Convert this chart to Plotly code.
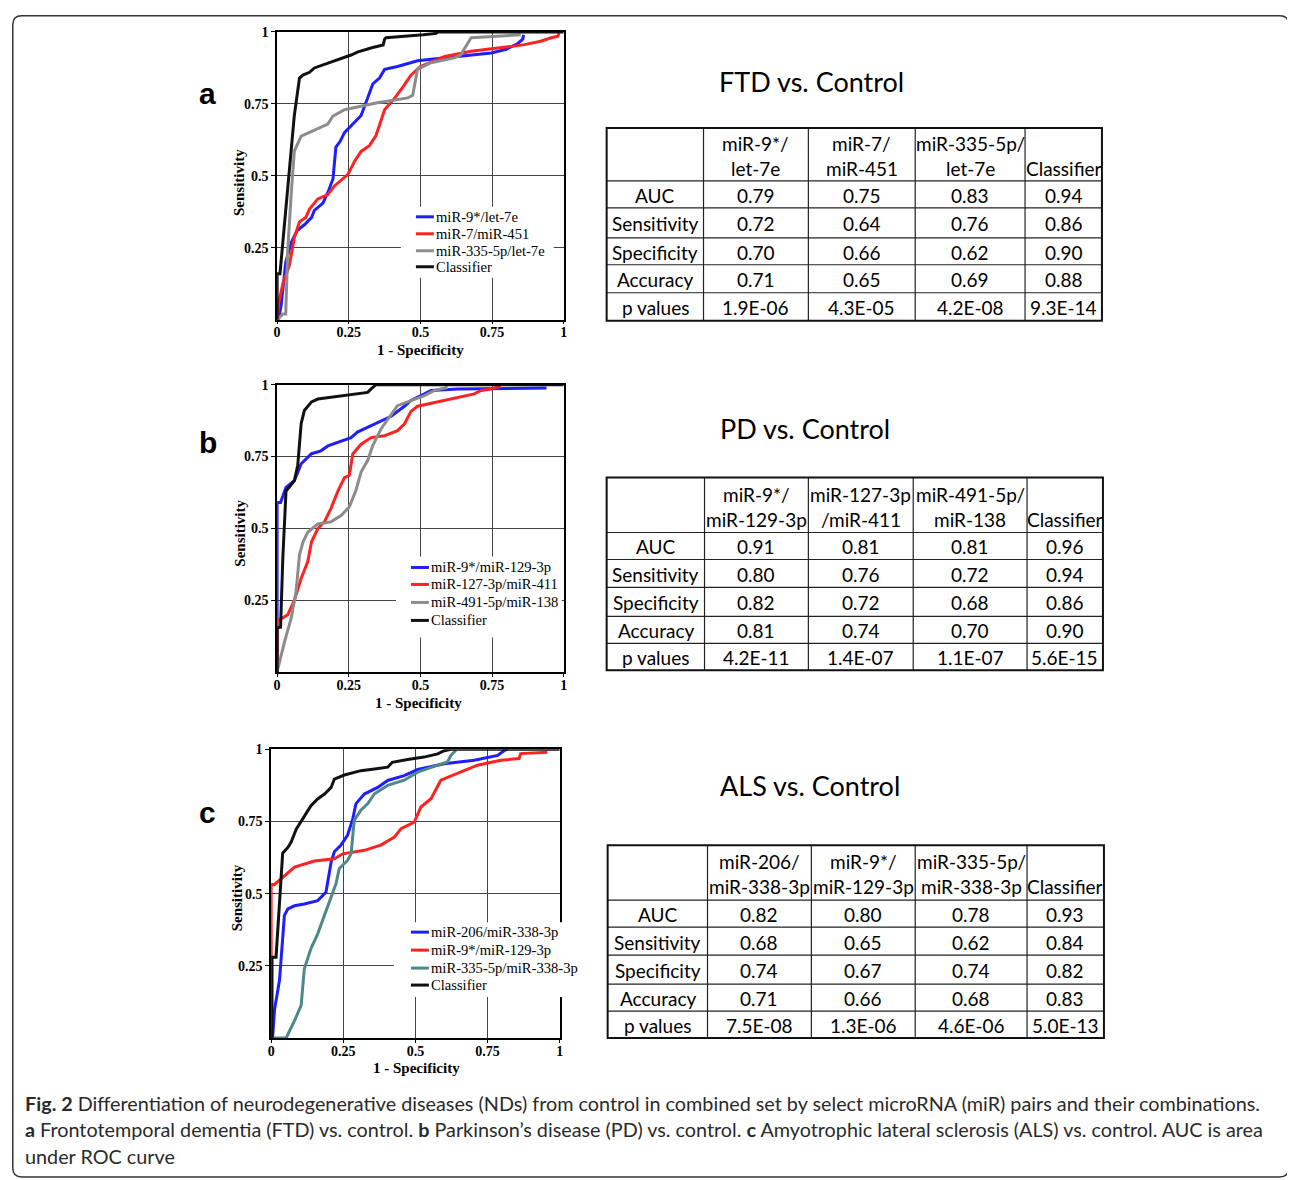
import plotly.graph_objects as go

W, H = 1292, 1176
# measured mapping of figure pixels to the photographed page
SX, OX = 0.996, 10.5
SY, OY = 0.995, 14.0

# ---------------- DATA ----------------
# Panel a: FTD vs Control
a_blue_x = [0, 0.005, 0.014, 0.03, 0.05, 0.07, 0.095, 0.12, 0.13, 0.16, 0.18, 0.195, 0.205, 0.22, 0.235, 0.265, 0.293, 0.31, 0.334, 0.357, 0.375, 0.42, 0.49, 0.537, 0.63, 0.747, 0.80, 0.84, 0.857, 0.86]
a_blue_y = [0, 0.0, 0.05, 0.2, 0.27, 0.31, 0.33, 0.355, 0.38, 0.405, 0.45, 0.49, 0.60, 0.62, 0.65, 0.68, 0.71, 0.755, 0.82, 0.84, 0.87, 0.88, 0.90, 0.905, 0.915, 0.927, 0.94, 0.96, 0.975, 0.99]
a_red_x = [0, 0.005, 0.02, 0.043, 0.06, 0.078, 0.1, 0.113, 0.142, 0.177, 0.2, 0.247, 0.27, 0.293, 0.322, 0.345, 0.375, 0.41, 0.44, 0.467, 0.5, 0.585, 0.677, 0.77, 0.863, 0.92, 0.956, 0.98, 0.983]
a_red_y = [0, 0.055, 0.125, 0.19, 0.285, 0.34, 0.355, 0.385, 0.42, 0.435, 0.465, 0.505, 0.55, 0.585, 0.605, 0.64, 0.73, 0.77, 0.81, 0.85, 0.88, 0.915, 0.933, 0.945, 0.956, 0.968, 0.98, 0.985, 0.997]
a_gray_x = [0, 0.02, 0.03, 0.037, 0.05, 0.06, 0.084, 0.13, 0.177, 0.194, 0.235, 0.35, 0.456, 0.473, 0.49, 0.537, 0.618, 0.64, 0.677, 0.85]
a_gray_y = [0, 0.02, 0.02, 0.24, 0.45, 0.586, 0.638, 0.66, 0.68, 0.707, 0.73, 0.754, 0.771, 0.78, 0.87, 0.893, 0.91, 0.92, 0.98, 0.99]
a_black_x = [0, 0, 0.01, 0.037, 0.06, 0.078, 0.09, 0.113, 0.13, 0.258, 0.28, 0.33, 0.37, 0.375, 0.38, 0.51, 0.555, 0.56, 1.0]
a_black_y = [0, 0.16, 0.16, 0.45, 0.71, 0.84, 0.85, 0.86, 0.875, 0.92, 0.93, 0.945, 0.955, 0.975, 0.98, 0.99, 0.995, 1.0, 1.0]

# Panel b: PD vs Control
b_blue_x = [0, 0, 0.012, 0.031, 0.06, 0.084, 0.12, 0.153, 0.177, 0.212, 0.258, 0.28, 0.328, 0.398, 0.444, 0.467, 0.514, 0.537, 0.63, 0.94]
b_blue_y = [0, 0.59, 0.59, 0.643, 0.666, 0.725, 0.76, 0.77, 0.787, 0.80, 0.816, 0.835, 0.857, 0.89, 0.925, 0.945, 0.968, 0.98, 0.985, 0.988]
b_red_x = [0, 0, 0.037, 0.06, 0.084, 0.107, 0.12, 0.142, 0.165, 0.188, 0.212, 0.235, 0.252, 0.264, 0.293, 0.328, 0.374, 0.42, 0.444, 0.467, 0.49, 0.56, 0.63, 0.688, 0.712, 0.746, 0.78]
b_red_y = [0, 0.177, 0.20, 0.25, 0.327, 0.385, 0.454, 0.50, 0.523, 0.57, 0.63, 0.677, 0.685, 0.759, 0.793, 0.816, 0.822, 0.84, 0.863, 0.907, 0.925, 0.94, 0.957, 0.968, 0.98, 0.985, 0.995]
b_gray_x = [0, 0.002, 0.026, 0.049, 0.066, 0.078, 0.09, 0.107, 0.142, 0.188, 0.223, 0.252, 0.275, 0.293, 0.316, 0.334, 0.363, 0.386, 0.42, 0.456, 0.514, 0.549, 0.595]
b_gray_y = [0, 0.01, 0.107, 0.188, 0.28, 0.408, 0.452, 0.487, 0.516, 0.523, 0.545, 0.575, 0.633, 0.696, 0.737, 0.789, 0.847, 0.881, 0.927, 0.94, 0.962, 0.98, 0.99]
b_black_x = [0, 0, 0.012, 0.02, 0.031, 0.049, 0.06, 0.072, 0.084, 0.095, 0.12, 0.142, 0.188, 0.28, 0.316, 0.328, 0.34, 0.345, 1.0]
b_black_y = [0, 0.155, 0.157, 0.40, 0.63, 0.65, 0.666, 0.72, 0.865, 0.91, 0.94, 0.95, 0.956, 0.968, 0.973, 0.985, 0.997, 1.0, 1.0]

# Panel c: ALS vs Control
c_blue_x = [0.005, 0.012, 0.029, 0.046, 0.058, 0.081, 0.115, 0.161, 0.19, 0.208, 0.219, 0.242, 0.265, 0.283, 0.294, 0.323, 0.369, 0.404, 0.461, 0.508, 0.60, 0.704, 0.785, 0.808, 0.819]
c_blue_y = [0, 0.10, 0.20, 0.425, 0.447, 0.458, 0.464, 0.476, 0.505, 0.61, 0.645, 0.668, 0.703, 0.76, 0.812, 0.845, 0.868, 0.892, 0.909, 0.93, 0.95, 0.962, 0.979, 0.996, 1.0]
c_red_x = [0, 0, 0.012, 0.035, 0.081, 0.15, 0.219, 0.248, 0.323, 0.38, 0.427, 0.45, 0.496, 0.519, 0.554, 0.588, 0.646, 0.715, 0.796, 0.859, 0.865, 0.957]
c_red_y = [0.28, 0.532, 0.532, 0.552, 0.592, 0.613, 0.621, 0.638, 0.65, 0.668, 0.696, 0.725, 0.748, 0.80, 0.829, 0.893, 0.916, 0.945, 0.962, 0.968, 0.985, 0.99]
c_teal_x = [0, 0.052, 0.081, 0.104, 0.115, 0.138, 0.161, 0.185, 0.208, 0.225, 0.236, 0.265, 0.277, 0.288, 0.311, 0.335, 0.358, 0.404, 0.461, 0.508, 0.577, 0.611, 0.623, 0.64]
c_teal_y = [0, 0, 0.06, 0.113, 0.24, 0.31, 0.36, 0.425, 0.488, 0.535, 0.587, 0.615, 0.638, 0.754, 0.789, 0.812, 0.846, 0.875, 0.893, 0.921, 0.945, 0.956, 0.979, 0.997]
c_black_x = [0.003, 0.003, 0.017, 0.029, 0.04, 0.058, 0.069, 0.087, 0.11, 0.138, 0.161, 0.185, 0.208, 0.219, 0.254, 0.311, 0.358, 0.404, 0.42, 0.473, 0.53, 0.577, 0.60, 0.623, 1.0]
c_black_y = [0, 0.28, 0.28, 0.48, 0.64, 0.66, 0.678, 0.723, 0.758, 0.805, 0.828, 0.845, 0.868, 0.897, 0.911, 0.926, 0.932, 0.938, 0.955, 0.965, 0.973, 0.984, 0.995, 1.0, 1.0]

a_names = ["miR-9*/let-7e", "miR-7/miR-451", "miR-335-5p/let-7e", "Classifier"]
b_names = ["miR-9*/miR-129-3p", "miR-127-3p/miR-411", "miR-491-5p/miR-138", "Classifier"]
c_names = ["miR-206/miR-338-3p", "miR-9*/miR-129-3p", "miR-335-5p/miR-338-3p", "Classifier"]

titles = ["FTD vs. Control", "PD vs. Control", "ALS vs. Control"]
panel_letters = ["a", "b", "c"]

row_labels = ["AUC", "Sensitivity", "Specificity", "Accuracy", "p values"]
a_headers = [("miR-9*/", "let-7e"), ("miR-7/", "miR-451"), ("miR-335-5p/", "let-7e"), ("", "Classifier")]
a_col1 = ["0.79", "0.72", "0.70", "0.71", "1.9E-06"]
a_col2 = ["0.75", "0.64", "0.66", "0.65", "4.3E-05"]
a_col3 = ["0.83", "0.76", "0.62", "0.69", "4.2E-08"]
a_col4 = ["0.94", "0.86", "0.90", "0.88", "9.3E-14"]
b_headers = [("miR-9*/", "miR-129-3p"), ("miR-127-3p", "/miR-411"), ("miR-491-5p/", "miR-138"), ("", "Classifier")]
b_col1 = ["0.91", "0.80", "0.82", "0.81", "4.2E-11"]
b_col2 = ["0.81", "0.76", "0.72", "0.74", "1.4E-07"]
b_col3 = ["0.81", "0.72", "0.68", "0.70", "1.1E-07"]
b_col4 = ["0.96", "0.94", "0.86", "0.90", "5.6E-15"]
c_headers = [("miR-206/", "miR-338-3p"), ("miR-9*/", "miR-129-3p"), ("miR-335-5p/", "miR-338-3p"), ("", "Classifier")]
c_col1 = ["0.82", "0.68", "0.74", "0.71", "7.5E-08"]
c_col2 = ["0.80", "0.65", "0.67", "0.66", "1.3E-06"]
c_col3 = ["0.78", "0.62", "0.74", "0.68", "4.6E-06"]
c_col4 = ["0.93", "0.84", "0.82", "0.83", "5.0E-13"]

x_tickvals = [0, 0.25, 0.5, 0.75, 1]
x_ticktext = ["0", "0.25", "0.5", "0.75", "1"]
y_tickvals = [0.25, 0.5, 0.75, 1]
y_ticktext = ["0.25", "0.5", "0.75", "1"]

caption_lines = [
    "<b>Fig. 2</b> Differentiation of neurodegenerative diseases (NDs) from control in combined set by select microRNA (miR) pairs and their combinations.",
    "<b>a</b> Frontotemporal dementia (FTD) vs. control. <b>b</b> Parkinson’s disease (PD) vs. control. <b>c</b> Amyotrophic lateral sclerosis (ALS) vs. control. AUC is area",
    "under ROC curve",
]

# ---------------- STYLE / LAYOUT ----------------
BLUE, RED, GRAY, TEAL, BLACK = "#1e1eff", "#ff2222", "#8c8c8c", "#4e8888", "#111111"
SERIF = "Liberation Serif"
SANS = "Lato"


def fx(x):
    return (x - OX) / SX


def fy(y):
    return (y - OY) / SY


def px(x):
    return fx(x) / W


def py(y):
    return 1 - fy(y) / H


fig = go.Figure()
shapes = []
annotations = []

panels = [
    dict(ax="", series=[(a_blue_x, a_blue_y, BLUE), (a_red_x, a_red_y, RED), (a_gray_x, a_gray_y, GRAY), (a_black_x, a_black_y, BLACK)],
         names=a_names, xpx=(276, 563), ypx=(31, 319),
         leg=dict(box=(400, 206, 553, 277), line=(415, 433), text=435, rows=[216, 233, 250, 266])),
    dict(ax="2", series=[(b_blue_x, b_blue_y, BLUE), (b_red_x, b_red_y, RED), (b_gray_x, b_gray_y, GRAY), (b_black_x, b_black_y, BLACK)],
         names=b_names, xpx=(276, 563), ypx=(384, 672),
         leg=dict(box=(395, 556, 561, 637), line=(410, 428), text=430, rows=[567, 584, 602, 620])),
    dict(ax="3", series=[(c_blue_x, c_blue_y, BLUE), (c_red_x, c_red_y, RED), (c_teal_x, c_teal_y, TEAL), (c_black_x, c_black_y, BLACK)],
         names=c_names, xpx=(270, 559), ypx=(749, 1038),
         leg=dict(box=(393, 922, 584, 997), line=(410, 428), text=430, rows=[932, 950, 968, 985])),
]

axis_common = dict(range=[0, 1], showgrid=True, gridcolor="#444444", gridwidth=1, showline=True,
                   linecolor="black", linewidth=1.5, mirror=True, ticks="outside",
                   tickcolor="black", zeroline=False, fixedrange=True,
                   tickfont=dict(family=SERIF, size=14, color="black", weight="bold"))

for p in panels:
    ax = p["ax"]
    for (xs, ys, col), nm in zip(p["series"], p["names"]):
        fig.add_trace(go.Scatter(x=xs, y=ys, mode="lines", name=nm, line=dict(color=col, width=3),
                                 xaxis="x" + ax, yaxis="y" + ax, showlegend=False))
    fig.layout["xaxis" + ax] = dict(axis_common, domain=[px(p["xpx"][0]), px(p["xpx"][1])],
                                    anchor="y" + ax, tickvals=x_tickvals, ticktext=x_ticktext,
                                    ticklen=3, ticklabelstandoff=-4)
    fig.layout["yaxis" + ax] = dict(axis_common, domain=[py(p["ypx"][1]), py(p["ypx"][0])],
                                    anchor="x" + ax, tickvals=y_tickvals, ticktext=y_ticktext, ticklen=4)
    # legend (white box, line samples, labels)
    lg = p["leg"]
    bx0, by0, bx1, by1 = lg["box"]
    shapes.append(dict(type="rect", xref="paper", yref="paper", x0=px(bx0), x1=px(bx1), y0=py(by1), y1=py(by0),
                       fillcolor="white", line=dict(width=0), layer="above"))
    for (xs, ys, col), nm, ry in zip(p["series"], p["names"], lg["rows"]):
        shapes.append(dict(type="line", xref="paper", yref="paper", x0=px(lg["line"][0]), x1=px(lg["line"][1]),
                           y0=py(ry), y1=py(ry), line=dict(color=col, width=3), layer="above"))
        annotations.append(dict(text=nm, x=px(lg["text"]), y=py(ry), xref="paper", yref="paper", showarrow=False,
                                xanchor="left", yanchor="middle", xshift=-2,
                                font=dict(family=SERIF, size=14.6, color="black")))

# Tables drawn as grid + text
tables = [
    (a_headers, [row_labels, a_col1, a_col2, a_col3, a_col4], [606, 703, 808, 915, 1025, 1102], [127, 180, 207, 237, 264, 292, 320]),
    (b_headers, [row_labels, b_col1, b_col2, b_col3, b_col4], [606, 704, 808, 913, 1027, 1103], [477, 532, 559, 587, 616, 643, 670]),
    (c_headers, [row_labels, c_col1, c_col2, c_col3, c_col4], [607, 707, 811, 915, 1027, 1104], [845, 900, 927, 955, 984, 1011, 1038]),
]
for hdr, cols, xs, ys in tables:
    for xv in xs[1:-1]:
        shapes.append(dict(type="line", xref="paper", yref="paper", x0=px(xv), x1=px(xv), y0=py(ys[0]), y1=py(ys[-1]),
                           line=dict(color="#222222", width=1.2)))
    for yv in ys[1:-1]:
        shapes.append(dict(type="line", xref="paper", yref="paper", x0=px(xs[0]), x1=px(xs[-1]), y0=py(yv), y1=py(yv),
                           line=dict(color="#222222", width=1.2)))
    shapes.append(dict(type="rect", xref="paper", yref="paper", x0=px(xs[0]), x1=px(xs[-1]), y0=py(ys[-1]), y1=py(ys[0]),
                       line=dict(color="#111111", width=2)))
    hc = (ys[0] + ys[1]) / 2 + 1.5
    for j, (l1, l2) in enumerate(hdr):
        cx = (xs[j + 1] + xs[j + 2]) / 2
        for t, yy in ((l1, hc - 12.5), (l2, hc + 12.5)):
            if t:
                annotations.append(dict(text=t, x=px(cx), y=py(yy), xref="paper", yref="paper", showarrow=False,
                                        xanchor="center", yanchor="middle",
                                        font=dict(family=SANS, size=19, color="black")))
    for j, col in enumerate(cols):
        cx = (xs[j] + xs[j + 1]) / 2
        for i, val in enumerate(col):
            cy = (ys[i + 1] + ys[i + 2]) / 2 + 1
            annotations.append(dict(text=val, x=px(cx), y=py(cy), xref="paper", yref="paper", showarrow=False,
                                    xanchor="center", yanchor="middle",
                                    font=dict(family=SANS, size=19, color="black")))

title_pos = [(811, 81), (805, 428), (810, 785)]
for t, (x, y) in zip(titles, title_pos):
    annotations.append(dict(text=t, x=px(x), y=py(y), xref="paper", yref="paper", showarrow=False,
                            xanchor="center", yanchor="middle", font=dict(family=SANS, size=27, color="black")))
letter_pos = [(206, 93), (207, 442), (206, 812)]
for t, (x, y) in zip(panel_letters, letter_pos):
    annotations.append(dict(text="<b>" + t + "</b>", x=px(x), y=py(y), xref="paper", yref="paper", showarrow=False,
                            xanchor="center", yanchor="middle",
                            font=dict(family="Liberation Sans", size=30, color="black")))
sens_pos = [(238, 182), (238, 533), (236, 898)]
for x, y in sens_pos:
    annotations.append(dict(text="<b>Sensitivity</b>", x=px(x), y=py(y), xref="paper", yref="paper", showarrow=False,
                            textangle=-90, xanchor="center", yanchor="middle",
                            font=dict(family=SERIF, size=15, color="black")))
spec_pos = [(420, 349), (418, 703), (416, 1068)]
for x, y in spec_pos:
    annotations.append(dict(text="<b>1 - Specificity</b>", x=px(x), y=py(y), xref="paper", yref="paper",
                            showarrow=False, xanchor="center", yanchor="middle",
                            font=dict(family=SERIF, size=15, color="black")))
cap_y = [1103, 1129, 1156]
for t, y in zip(caption_lines, cap_y):
    annotations.append(dict(text=t, x=px(25), y=py(y), xref="paper", yref="paper", showarrow=False,
                            xanchor="left", yanchor="middle", align="left", xshift=-3,
                            font=dict(family=SANS, size=19.8, color="#2a2a2a")))

# rounded outer frame (kept inside the figure)
x0f, x1f = max(fx(10), 0.8) / W, min(fx(1289), W - 1.0) / W
y1f, y0f = 1 - max(fy(13), 0.8) / H, 1 - min(fy(1177), H - 1.0) / H
r = 9
rx, ry = r / W, r / H
path = (f"M {x0f + rx},{y1f} L {x1f - rx},{y1f} Q {x1f},{y1f} {x1f},{y1f - ry} "
        f"L {x1f},{y0f + ry} Q {x1f},{y0f} {x1f - rx},{y0f} "
        f"L {x0f + rx},{y0f} Q {x0f},{y0f} {x0f},{y0f + ry} "
        f"L {x0f},{y1f - ry} Q {x0f},{y1f} {x0f + rx},{y1f} Z")
shapes.append(dict(type="path", path=path, xref="paper", yref="paper", line=dict(color="#333333", width=1.5)))

fig.update_layout(width=W, height=H, margin=dict(l=0, r=0, t=0, b=0), paper_bgcolor="white",
                  plot_bgcolor="white", annotations=annotations, shapes=shapes, showlegend=False)

fig.write_html("out.html")
